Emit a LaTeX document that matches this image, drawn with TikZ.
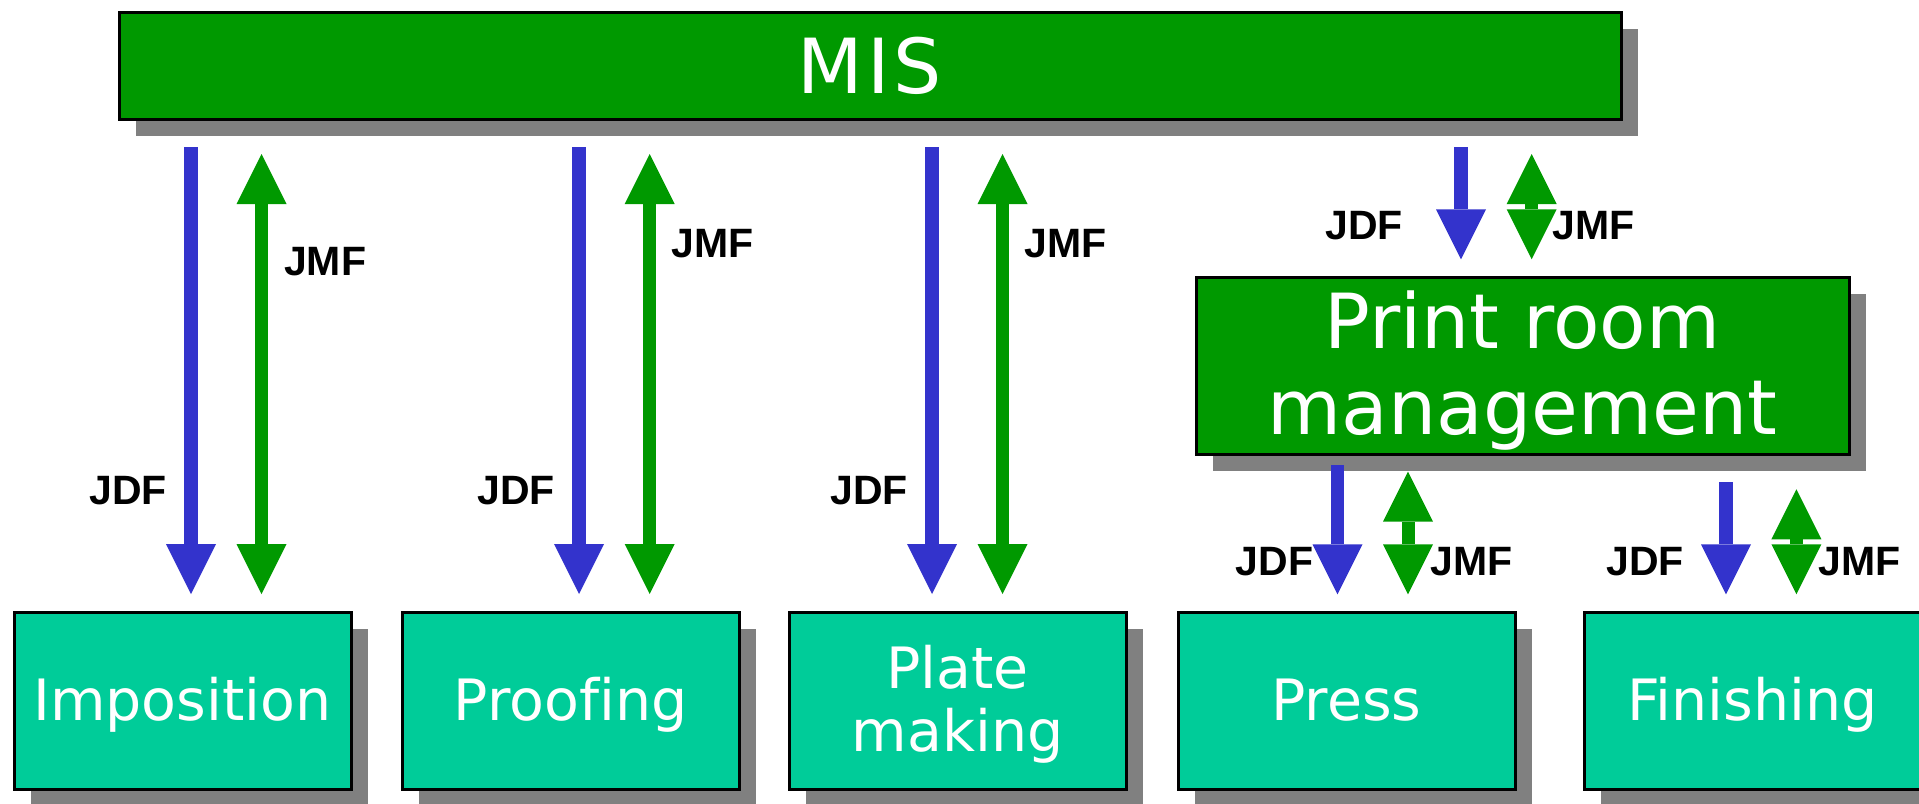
\documentclass[tikz,border=0pt]{standalone}
\usepackage{fontspec}
\setmainfont{DejaVu Sans}[Ligatures=NoCommon]
\newfontfamily\lblfont{Liberation Sans}
\usetikzlibrary{arrows.meta,shadows}
\definecolor{misgreen}{HTML}{009900}
\definecolor{devteal}{HTML}{00CC99}
\definecolor{jdfblue}{HTML}{3333CC}
\definecolor{shadowgray}{HTML}{808080}
\tikzset{
  shadowed/.style={drop shadow={shadow xshift=17pt,shadow yshift=-17pt,fill=shadowgray,opacity=1}},
  mgrbox/.style={rectangle, draw=black, line width=3pt, fill=misgreen, shadowed, inner sep=0pt},
  devbox/.style={rectangle, draw=black, line width=3pt, fill=devteal, shadowed, inner sep=0pt, minimum width=337pt, minimum height=177pt},
  bigtext/.style={text=white, font=\fontsize{76}{86}\selectfont, align=center, inner sep=0pt, anchor=base},
  devtext/.style={text=white, font=\fontsize{57}{63.4}\selectfont, align=center, inner sep=0pt, anchor=base},
  lbl/.style={font=\lblfont\bfseries\fontsize{41}{41}\selectfont, inner sep=0pt, anchor=base west},
  jdfarrow/.style={draw=jdfblue, line width=13.4pt, line cap=butt, -{Triangle[width=50pt,length=50pt,line width=0pt]}},
  jmfarrow/.style={draw=misgreen, line width=13pt, line cap=butt, {Triangle[width=50pt,length=50pt,line width=0pt]}-{Triangle[width=50pt,length=50pt,line width=0pt]}},
}
\begin{document}
\begin{tikzpicture}[x=1pt,y=-1pt]
\path[use as bounding box, clip] (0,0) rectangle (1919,803);
\fill[white] (0,0) rectangle (1919,803);
% management boxes
\node[mgrbox, minimum width=1502pt, minimum height=107pt] (mis) at (870,65.5) {};
\node[bigtext] (mist) at (870,93) {M\kern4pt I\kern4pt S};
\node[mgrbox, minimum width=653pt, minimum height=177pt] (prm) at (1522.5,365.5) {};
\node[bigtext] (prmt) at (1522.5,434.5) {Print room\\management};
% device boxes
\node[devbox] (imp) at (182.5,700.5) {};
\node[devbox] (prf) at (570.5,700.5) {};
\node[devbox] (plt) at (957.5,700.5) {};
\node[devbox] (prs) at (1346.5,700.5) {};
\node[devbox] (fin) at (1752.5,700.5) {};
\node[devtext] (impt) at (182.5,720) {Imposition};
\node[devtext] (prft) at (570.5,720) {Proofing};
\node[devtext] (pltt) at (957.5,751.7) {Plate\\making};
\node[devtext] (prst) at (1346.5,720) {Press};
\node[devtext] (fint) at (1752.5,720) {Finishing};
% arrow end points
\coordinate (j1s) at (191,147);    \coordinate (j1e) at (191,594);
\coordinate (m1s) at (261.5,154);  \coordinate (m1e) at (261.5,594);
\coordinate (j2s) at (579,147);    \coordinate (j2e) at (579,594);
\coordinate (m2s) at (649.7,154);  \coordinate (m2e) at (649.7,594);
\coordinate (j3s) at (932,147);    \coordinate (j3e) at (932,594);
\coordinate (m3s) at (1002.5,154); \coordinate (m3e) at (1002.5,594);
\coordinate (j4s) at (1461,147);   \coordinate (j4e) at (1461,259.3);
\coordinate (m4s) at (1531.7,154); \coordinate (m4e) at (1531.7,259.3);
\coordinate (j5s) at (1337.5,465); \coordinate (j5e) at (1337.5,594.3);
\coordinate (m5s) at (1408,471.7); \coordinate (m5e) at (1408,594.3);
\coordinate (j6s) at (1726,482);   \coordinate (j6e) at (1726,594.3);
\coordinate (m6s) at (1796.4,489.3); \coordinate (m6e) at (1796.4,594.3);
% arrows
\draw[jdfarrow] (j1s) -- (j1e);
\draw[jmfarrow] (m1s) -- (m1e);
\draw[jdfarrow] (j2s) -- (j2e);
\draw[jmfarrow] (m2s) -- (m2e);
\draw[jdfarrow] (j3s) -- (j3e);
\draw[jmfarrow] (m3s) -- (m3e);
\draw[jdfarrow] (j4s) -- (j4e);
\draw[jmfarrow] (m4s) -- (m4e);
\draw[jdfarrow] (j5s) -- (j5e);
\draw[jmfarrow] (m5s) -- (m5e);
\draw[jdfarrow] (j6s) -- (j6e);
\draw[jmfarrow] (m6s) -- (m6e);
% labels
\node[lbl] (l1m) at (284,275) {JMF};
\node[lbl] (l2m) at (671.7,257.3) {JMF};
\node[lbl] (l3m) at (1024.5,257.3) {JMF};
\node[lbl] (l1d) at (89.3,504.3) {JDF};
\node[lbl] (l2d) at (477,504.3) {JDF};
\node[lbl] (l3d) at (830,504.3) {JDF};
\node[lbl] (l4d) at (1325,239.3) {JDF};
\node[lbl] (l4m) at (1552.7,239.3) {JMF};
\node[lbl] (l5d) at (1235.7,575) {JDF};
\node[lbl] (l5m) at (1430,575) {JMF};
\node[lbl] (l6d) at (1606,575) {JDF};
\node[lbl] (l6m) at (1818,575) {JMF};
\end{tikzpicture}
\end{document}
